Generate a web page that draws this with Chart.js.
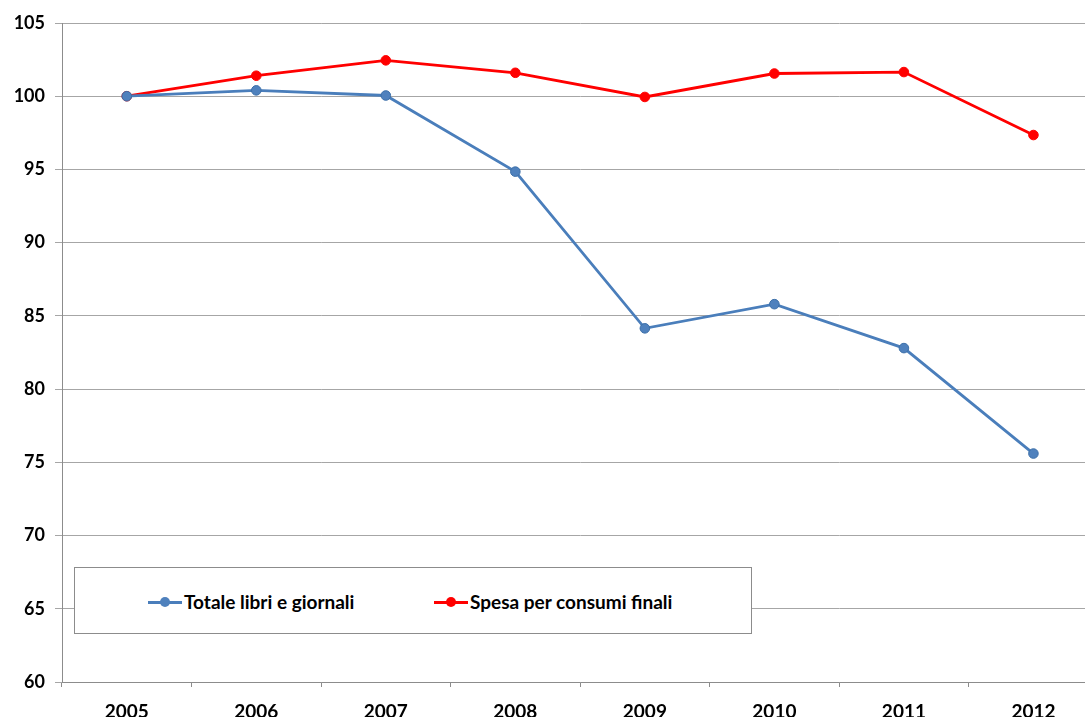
<!DOCTYPE html>
<html>
<head>
<meta charset="utf-8">
<script src="https://cdn.jsdelivr.net/npm/chart.js@4"></script>
<style>
  body { margin: 0; background: #fff; }
  #wrap { position: relative; width: 1085px; height: 717px; overflow: hidden; }
  #legend {
    position: absolute; left: 74px; top: 567px; width: 676px; height: 65px;
    border: 1px solid #8c8c8c; background: #fff;
    font-family: Lato, "Open Sans", sans-serif; font-weight: bold; font-size: 19px; color: #000;
  }
  .item { position: absolute; top: 22px; display: flex; align-items: center; white-space: nowrap; }
  .swatch { position: relative; width: 34px; height: 20px; margin-right: 2px; }
  .swatch .ln { position: absolute; left: 0; right: 0; top: 9px; height: 3px; }
  .swatch .dot { position: absolute; left: 12px; top: 5px; width: 10px; height: 10px; border-radius: 50%; }
</style>
</head>
<body>
<div id="wrap">
  <canvas id="chart" width="1104" height="717"></canvas>
  <div id="legend"></div>
</div>
<script>
const years = ["2005", "2006", "2007", "2008", "2009", "2010", "2011", "2012"];
const libriGiornali = [100, 100.4, 100.05, 94.85, 84.15, 85.8, 82.8, 75.6];
const spesaConsumi = [100, 101.4, 102.45, 101.6, 99.95, 101.55, 101.65, 97.35];
const seriesNames = ["Totale libri e giornali", "Spesa per consumi finali"];
const lineColors = ["#4a7ebb", "#ff0000"];
const pointColors = ["#4f81bd", "#ff0000"];

const xFont = { family: "Lato, 'Open Sans', sans-serif", size: 19, weight: "bold" };
const yFont = { family: "Lato, 'Open Sans', sans-serif", size: 18, weight: "bold" };

const ctx = document.getElementById("chart").getContext("2d");
const chart = new Chart(ctx, {
  type: "line",
  data: {
    labels: years,
    datasets: [
      {
        label: seriesNames[0],
        data: libriGiornali,
        borderColor: lineColors[0],
        backgroundColor: pointColors[0],
        pointBorderColor: "#3c6fa8",
        borderWidth: 2.8,
        pointRadius: 4.8,
        pointBorderWidth: 1,
        tension: 0
      },
      {
        label: seriesNames[1],
        data: spesaConsumi,
        borderColor: lineColors[1],
        backgroundColor: pointColors[1],
        pointBorderColor: lineColors[1],
        borderWidth: 2.8,
        pointRadius: 4.8,
        pointBorderWidth: 1,
        tension: 0
      }
    ]
  },
  options: {
    responsive: false,
    animation: false,
    layout: { padding: { top: 23, right: 0, left: 0, bottom: 0 } },
    plugins: { legend: { display: false }, tooltip: { enabled: false } },
    scales: {
      x: {
        offset: true,
        afterFit: (scale) => {
          scale.height = 35;
          scale.paddingLeft = 0;
          scale.paddingRight = 0;
        },
        grid: {
          offset: true,
          drawOnChartArea: false,
          drawTicks: true,
          tickLength: 5,
          color: "#8c8c8c"
        },
        border: { color: "#8c8c8c" },
        ticks: { font: xFont, color: "#000", padding: 13 }
      },
      y: {
        min: 60,
        max: 105,
        afterFit: (scale) => { scale.width = 62; },
        grid: { color: "#a6a6a6", tickLength: 7, lineWidth: 1 },
        border: { color: "#8c8c8c" },
        ticks: { stepSize: 5, font: yFont, color: "#000", padding: 10 }
      }
    }
  }
});

// legend drawn as html box inside the plot
const legend = document.getElementById("legend");
const itemLeft = [73, 359];
seriesNames.forEach((name, i) => {
  const item = document.createElement("div");
  item.className = "item";
  item.style.left = itemLeft[i] + "px";
  item.innerHTML = `<div class="swatch"><div class="ln" style="background:${lineColors[i]}"></div>
    <div class="dot" style="background:${pointColors[i]}"></div></div><span>${name}</span>`;
  legend.appendChild(item);
});
</script>
</body>
</html>
